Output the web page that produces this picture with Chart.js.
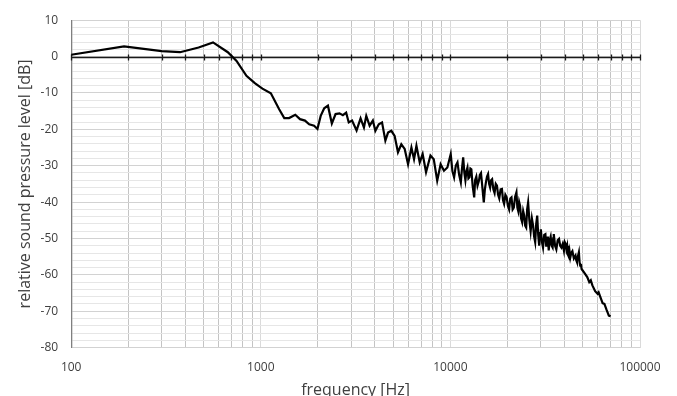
<!DOCTYPE html>
<html>
<head>
<meta charset="utf-8">
<script src="https://cdn.jsdelivr.net/npm/chart.js@4"></script>
<style>
  body { margin: 0; background: #fff; }
</style>
</head>
<body>
<canvas id="spl-chart" width="677" height="396"></canvas>
<script>
const frequencies = [
  100, 190, 300, 375, 470, 560, 670, 745, 840, 930,
  1020, 1130, 1250, 1330, 1410, 1520, 1610, 1710, 1800, 1910,
  1990, 2070, 2160, 2260, 2370, 2480, 2600, 2710, 2820, 2910,
  3030, 3200, 3360, 3500, 3600, 3750, 3900, 4020, 4190, 4360,
  4540, 4690, 4880, 5080, 5290, 5510, 5740, 5980, 6230, 6430,
  6620, 6890, 7140, 7440, 7850, 8170, 8520, 8880, 9250, 9640,
  10040, 10250, 10460, 10680, 10900, 11120, 11350, 11500, 11680, 11850,
  12000, 12150, 12300, 12450, 12600, 12750, 12900, 13100, 13350, 13500,
  13700, 13900, 14150, 14300, 14500, 14750, 15000, 15200, 15400, 15600,
  15800, 16000, 16200, 16400, 16600, 16850, 17100, 17350, 17600, 17850,
  18100, 18400, 18700, 18950, 19200, 19500, 19800, 20100, 20400, 20700,
  21000, 21300, 21600, 21950, 22300, 22550, 22800, 23050, 23300, 23600,
  23900, 24200, 24500, 24800, 25100, 25400, 25700, 26100, 26500, 26900,
  27300, 27650, 28000, 28350, 28700, 29050, 29400, 29700, 30000, 30400,
  30800, 31250, 31700, 32000, 32300, 32650, 33000, 33400, 33800, 34200,
  34600, 34850, 35100, 35650, 36200, 36800, 37400, 37950, 38500, 39100,
  39700, 40100, 40500, 40900, 41300, 41700, 42100, 42500, 42900, 43400,
  44000, 44800, 45700, 46100, 46500, 47000, 47600, 48000, 48400, 48800,
  49200, 51000, 52700, 54000, 55000, 56100, 58000, 59700, 60500, 62300,
  63500, 64900, 66500, 68500, 70000
];

const levels = [
  0.5, 2.8, 1.5, 1.2, 2.5, 3.9, 1.2, -1.2, -5.3, -7.3,
  -8.8, -10.1, -14.5, -16.9, -16.9, -16.0, -17.2, -17.6, -18.6, -19.0,
  -19.9, -16.3, -14.2, -13.5, -18.4, -15.8, -15.6, -16.1, -15.4, -18.1,
  -17.6, -20.3, -17.0, -19.5, -16.3, -19.0, -17.6, -20.4, -18.6, -18.1,
  -23.1, -20.9, -20.4, -21.8, -26.3, -24.1, -25.4, -29.6, -25.0, -28.2,
  -24.5, -29.1, -26.8, -31.8, -27.2, -28.2, -34.1, -29.6, -31.4, -30.5,
  -26.8, -31.5, -33.2, -30.0, -29.1, -32.5, -34.6, -31.0, -27.7, -32.0,
  -34.0, -31.5, -30.5, -33.5, -33.2, -30.8, -31.0, -35.5, -38.7, -34.0,
  -33.0, -35.5, -34.1, -32.5, -32.0, -36.0, -40.1, -36.5, -34.5, -33.0,
  -32.3, -35.0, -36.0, -34.0, -33.7, -36.5, -37.5, -35.0, -35.5, -38.0,
  -39.0, -36.5, -36.4, -39.5, -40.5, -38.0, -38.7, -41.0, -42.0, -39.0,
  -38.7, -42.0, -41.5, -38.5, -37.3, -41.5, -42.5, -40.0, -41.0, -44.5,
  -45.5, -42.5, -43.7, -46.5, -47.0, -42.0, -40.1, -45.0, -48.0, -44.5,
  -46.5, -49.5, -51.0, -46.0, -43.7, -49.0, -52.0, -48.5, -47.5, -51.0,
  -52.5, -49.0, -48.8, -52.0, -51.5, -49.5, -53.3, -50.5, -49.5, -52.0,
  -52.5, -50.0, -48.8, -52.0, -53.0, -50.5, -50.1, -52.0, -52.5, -51.5,
  -53.3, -51.0, -51.5, -53.0, -52.0, -54.5, -55.0, -53.5, -55.2, -54.0,
  -53.5, -55.5, -54.7, -56.0, -56.5, -55.0, -53.8, -56.5, -57.5, -57.0,
  -58.4, -59.5, -60.6, -62.0, -61.5, -62.9, -64.5, -65.2, -64.8, -66.6,
  -67.8, -68.0, -69.5, -71.2, -71.4
];

// log axis: labelled decades plus 2..9 gridlines in between
const decades = [100, 1000, 10000, 100000];
const minorSteps = [2, 3, 4, 5, 6, 7, 8, 9];
const xGridValues = [];
decades.forEach((d, i) => {
  xGridValues.push(d);
  if (i < decades.length - 1) {
    minorSteps.forEach((m) => xGridValues.push(d * m));
  }
});

const yMin = -80;
const yMax = 10;
const yStep = 2;
const yLabelStep = 10;

const textColor = "#404040";
const fontFamily = "'Open Sans', 'DejaVu Sans', sans-serif";

// axis line crossing at 0 dB, with tick marks on every x gridline
const zeroAxis = {
  id: "zeroAxis",
  beforeDatasetsDraw(chart) {
    const { ctx, chartArea, scales } = chart;
    const y0 = Math.round(scales.y.getPixelForValue(0)) + 0.5;
    ctx.save();
    ctx.strokeStyle = "#1a1a1a";
    ctx.lineWidth = 1.3;
    ctx.beginPath();
    ctx.moveTo(chartArea.left, y0);
    ctx.lineTo(chartArea.right, y0);
    xGridValues.forEach((v) => {
      const x = Math.round(scales.x.getPixelForValue(v)) + 0.5;
      ctx.moveTo(x, y0 - 3);
      ctx.lineTo(x, y0 + 3);
    });
    ctx.stroke();
    ctx.restore();
  },
};

const ctx = document.getElementById("spl-chart").getContext("2d");
new Chart(ctx, {
  type: "line",
  data: {
    datasets: [
      {
        data: frequencies.map((f, i) => ({ x: f, y: levels[i] })),
        borderColor: "#000000",
        borderWidth: 2.2,
        pointRadius: 0,
        tension: 0,
        fill: false,
      },
    ],
  },
  options: {
    responsive: false,
    animation: false,
    devicePixelRatio: 1,
    layout: {
      padding: { left: 17, right: 37, top: 13, bottom: -2 },
    },
    plugins: {
      legend: { display: false },
      tooltip: { enabled: false },
    },
    scales: {
      x: {
        type: "logarithmic",
        min: decades[0],
        max: decades[decades.length - 1],
        afterBuildTicks: (scale) => {
          scale.ticks = xGridValues.map((v) => ({ value: v }));
        },
        ticks: {
          autoSkip: false,
          maxRotation: 0,
          padding: 13,
          color: textColor,
          font: { family: fontFamily, size: 12 },
          callback: (value) => (decades.includes(value) ? String(value) : ""),
        },
        grid: {
          drawTicks: false,
          color: (c) =>
            c.tick && decades.includes(c.tick.value) ? "#dadada" : "#c4c4c4",
        },
        border: { display: false },
        title: {
          display: true,
          text: "frequency [Hz]",
          color: textColor,
          font: { family: fontFamily, size: 16, lineHeight: 1 },
          padding: { top: -6, bottom: 0 },
        },
      },
      y: {
        min: yMin,
        max: yMax,
        ticks: {
          stepSize: yStep,
          autoSkip: false,
          padding: 13,
          color: textColor,
          font: { family: fontFamily, size: 12 },
          callback: (value) => (value % yLabelStep === 0 ? String(value) : ""),
        },
        grid: {
          drawTicks: false,
          color: (c) =>
            c.tick && c.tick.value % yLabelStep === 0 ? "#d2d2d2" : "#e6e6e6",
        },
        border: { display: true, color: "#7f7f7f", width: 1.3 },
        title: {
          display: true,
          text: "relative sound pressure level [dB]",
          color: textColor,
          font: { family: fontFamily, size: 16, lineHeight: 1.1 },
          padding: { top: 0, bottom: -7 },
        },
      },
    },
  },
  plugins: [zeroAxis],
});
</script>
</body>
</html>
